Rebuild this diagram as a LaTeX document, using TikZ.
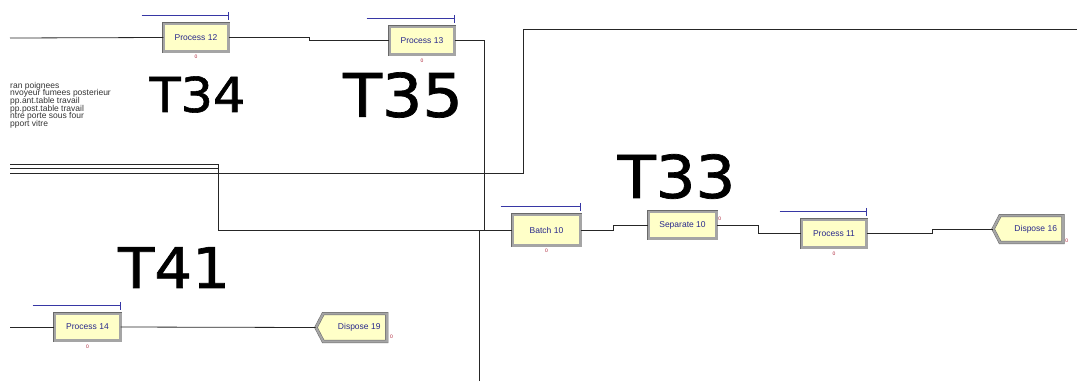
\documentclass[tikz,border=0pt]{standalone}
\usepackage{fontspec}
\setmainfont{Liberation Sans}
\newfontfamily\tagfont[FakeBold=1.2]{DejaVu Sans}
\usetikzlibrary{arrows.meta,positioning,shapes.symbols}

\definecolor{boxfill}{RGB}{255,255,200}
\definecolor{boxframe}{RGB}{165,165,165}
\definecolor{boxedge}{RGB}{105,105,105}
\definecolor{labelblue}{RGB}{40,40,140}
\definecolor{queueblue}{RGB}{55,55,165}
\definecolor{markred}{RGB}{170,30,50}

\tikzset{
  modbox/.style={draw=boxedge, line width=0.5pt, double=boxframe, double distance=2.2pt,
    fill=boxfill, inner sep=0pt, font=\fontsize{8.5}{9}\selectfont, text=labelblue},
  dispbox/.style={modbox, shape=signal, signal to=west, signal pointer angle=125},
  cntmark/.style={inner sep=0pt, font=\fontsize{5}{5}\selectfont, text=markred},
  qbar/.style={draw=queueblue, line width=0.8pt, -{Bar[width=8pt,line width=0.8pt]}},
  conn/.style={draw=black!85, line width=0.8pt},
  bigtag/.style={inner sep=0pt, xscale=1.06},
  sidetxt/.style={inner sep=0pt, anchor=base west, font=\fontsize{8.5}{8.5}\selectfont, text=black!80}
}

\begin{document}
\begin{tikzpicture}[x=1pt,y=-1pt]
\useasboundingbox (0,0) rectangle (1077,381);

% Modules
\node[modbox, minimum width=64.8pt, minimum height=27.8pt] (p12) at (196,37.5) {Process 12};
\node[modbox, minimum width=64.8pt, minimum height=27.8pt] (p13) at (422,40.5) {Process 13};
\node[modbox, minimum width=67.8pt, minimum height=30.8pt] (b10) at (546.5,230) {Batch 10};
\node[modbox, minimum width=67.8pt, minimum height=26.8pt] (s10) at (682.5,225) {Separate 10};
\node[modbox, minimum width=64.8pt, minimum height=27.8pt] (p11) at (834,233.5) {Process 11};
\node[dispbox, minimum width=69.8pt, minimum height=26.8pt] (d16) at (1031.5,229) {\quad Dispose 16};
\node[modbox, minimum width=65.8pt, minimum height=26.8pt] (p14) at (87.5,327) {Process 14};
\node[dispbox, minimum width=70.8pt, minimum height=27.8pt] (d19) at (355,327.5) {\quad Dispose 19};

% Queues
\foreach \m/\len in {p12/87, p13/88, b10/80, p11/87, p14/88}
  \draw[qbar] ([xshift=-\len pt,yshift=7.5pt]\m.north east) -- ([yshift=7.5pt]\m.north east);

% Counters
\node[cntmark, below=3pt of p12] (m12) {0};
\node[cntmark, below=4pt of p13] (m13) {0};
\node[cntmark, below=3pt of b10] (mb10) {0};
\node[cntmark, below=4pt of p11] (m11) {0};
\node[cntmark, below=4pt of p14] (m14) {0};
\node[cntmark, anchor=north west] (ms10) at ([xshift=1.5pt,yshift=-5pt]s10.north east) {0};
\node[cntmark, anchor=south west] (m16) at ([xshift=2pt,yshift=-1pt]d16.south east) {0};
\node[cntmark, anchor=south west] (m19) at ([xshift=3pt,yshift=2pt]d19.south east) {0};

% Station labels
\node[bigtag, font=\tagfont\fontsize{48}{48}\selectfont] (t34) at (197.5,94.5) {T34};
\node[bigtag, font=\tagfont\fontsize{60}{60}\selectfont] (t35) at (403,95) {T35};
\node[bigtag, font=\tagfont\fontsize{56}{56}\selectfont] (t41) at (174,267.5) {T41};
\node[bigtag, font=\tagfont\fontsize{59}{59}\selectfont] (t33) at (676.5,176.5) {T33};

% Cut-off text on the left
\foreach \t [count=\i] in {ran poignees, nvoyeur fumees posterieur, pp.ant.table travail,
    pp.post.table travail, ntre porte sous four, pport vitre}
  \node[sidetxt] (txt\i) at (10,80.7+7.6*\i) {\t};

% Connections
\coordinate (in12) at (10,38);
\coordinate (jn) at (484,230);
\coordinate (inA) at (10,164);
\coordinate (inB) at (10,168);
\coordinate (inC) at (479,381);
\coordinate (inD) at (10,173);
\coordinate (outD) at (1077,29);
\coordinate (in14) at (10,327);

\draw[conn] (in12) -- (p12.west);
\draw[conn] (p12.east) -- ++(81,0) |- (p13.west);
\draw[conn] (p13.east) -| (jn) -- (b10.west);
\draw[conn] (inA) -- (218,164) |- (b10.west);
\draw[conn] (inB) -- (218,168) |- (b10.west);
\draw[conn] (inC) |- (b10.west);
\draw[conn] (inD) -- (523,173) |- (outD);
\draw[conn] (b10.east) -- ++(32.6,0) |- (s10.west);
\draw[conn] (s10.east) -- ++(41.6,0) |- (p11.west);
\draw[conn] (p11.east) -- ++(65.6,0) |- (d16.west);
\draw[conn] (in14) -- (p14.west);
\draw[conn] (p14.east) -- (d19.west);

\end{tikzpicture}
\end{document}
